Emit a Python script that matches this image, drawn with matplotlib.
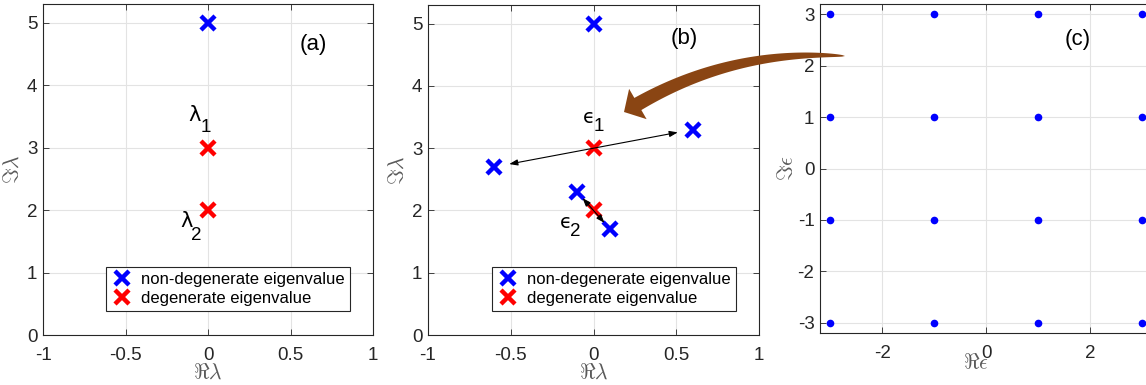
import numpy as np
import matplotlib.pyplot as plt
from matplotlib.patches import Polygon
from matplotlib.transforms import offset_copy

plt.rcParams['font.family'] = ['Liberation Sans', 'DejaVu Sans']
plt.rcParams['mathtext.fontset'] = 'dejavusans'
plt.rcParams['axes.unicode_minus'] = False

# eigenvalues of the unperturbed problem
deg_re = [0, 0]
deg_im = [3, 2]
nondeg_a_re = [0]
nondeg_a_im = [5]

# eigenvalues after the perturbation splits the degenerate pair
nondeg_b_re = [0, -0.6, 0.6, -0.1, 0.1]
nondeg_b_im = [5, 2.7, 3.3, 2.3, 1.7]

# lattice of perturbation values in the complex plane
eps_re = [-3, -1, 1, 3]
eps_im = [-3, -1, 1, 3]

blue = '#0000ff'
red = '#ff0000'
axcol = '#262626'
labcol = '#5a5a5a'

fig = plt.figure(figsize=(11.46, 3.85), dpi=100)
W, H = 1146, 385


def place(l, r, t, b):
    return fig.add_axes([l / W, 1 - b / H, (r - l) / W, (b - t) / H])


def style(ax):
    ax.grid(True, color='#e3e3e3', lw=0.8)
    ax.set_axisbelow(True)
    for s in ax.spines.values():
        s.set_color(axcol)
        s.set_linewidth(0.8)
    ax.tick_params(direction='in', length=4, width=0.6, colors=axcol,
                   labelsize=13.5, top=True, right=True, labeltop=False, labelright=False)
    ax.tick_params(axis='x', pad=9)
    ax.tick_params(axis='y', pad=4)


def sub_label(ax, x, y, sym, idx, dx, dy, size=15):
    # symbol with a large, lowered index in the style of a tex subscript
    ax.text(x, y, sym, fontsize=size, ha='center', va='center',
            family=['DejaVu Sans'])
    tr = offset_copy(ax.transData, fig=fig, x=dx, y=-dy, units='dots')
    ax.text(x, y, idx, fontsize=13.5, ha='center', va='center', transform=tr)


mk = dict(marker='x', ls='none', ms=10, mew=3.2)
arrow_kw = dict(arrowstyle='<|-|>,head_length=0.5,head_width=0.18', color='black', lw=0.8)

# (a) degenerate spectrum
axa = place(43, 373, 4, 335)
axa.plot(nondeg_a_re, nondeg_a_im, color=blue, label='non-degenerate eigenvalue', **mk)
axa.plot(deg_re, deg_im, color=red, label='degenerate eigenvalue', **mk)
sub_label(axa, -0.08, 3.53, 'λ', '1', 11, 13)
sub_label(axa, -0.13, 1.82, 'λ', '2', 10, 14)
axa.text(0.64, 4.65, '(a)', fontsize=16, ha='center', va='center')

# (b) split spectrum
axb = place(428, 759, 5, 335)
axb.plot(nondeg_b_re, nondeg_b_im, color=blue, label='non-degenerate eigenvalue', **mk)
axb.plot(deg_re, deg_im, color=red, label='degenerate eigenvalue', **mk)
axb.annotate('', xy=(nondeg_b_re[2], nondeg_b_im[2]), xytext=(nondeg_b_re[1], nondeg_b_im[1]),
             arrowprops=dict(shrinkA=11, shrinkB=11, **arrow_kw))
axb.annotate('', xy=(nondeg_b_re[4], nondeg_b_im[4]), xytext=(nondeg_b_re[3], nondeg_b_im[3]),
             arrowprops=dict(shrinkA=6, shrinkB=6, **arrow_kw))
sub_label(axb, -0.027, 3.49, 'ϵ', '1', 10, 9, size=14)
sub_label(axb, -0.166, 1.81, 'ϵ', '2', 9, 9, size=14)
axb.text(0.55, 4.76, '(b)', fontsize=16, ha='center', va='center')

for ax in (axa, axb):
    style(ax)
    ax.set_xlim(-1, 1)
    ax.set_ylim(0, 5.3)
    ax.set_xticks([-1, -0.5, 0, 0.5, 1])
    ax.set_xticklabels(['-1', '-0.5', '0', '0.5', '1'])
    ax.set_yticks(range(6))
    ax.set_xlabel(r'$\Re\lambda$', fontsize=15.5, color=labcol, math_fontfamily='cm', labelpad=-1)
    ax.set_ylabel(r'$\Im\lambda$', fontsize=15.5, color=labcol, math_fontfamily='cm', labelpad=2)
    leg = ax.legend(loc='lower right', bbox_to_anchor=(0.955, 0.048), fontsize=12,
                    fancybox=False, framealpha=1, edgecolor=axcol, borderpad=0.3,
                    handletextpad=0.5, labelspacing=0.25, handlelength=1.3)
    leg.get_frame().set_linewidth(0.8)

# (c) perturbation lattice
axc = place(820, 1152, 4, 333)
gx, gy = np.meshgrid(eps_re, eps_im)
axc.plot(gx.ravel(), gy.ravel(), 'o', color=blue, ms=5.5, mec='none')
axc.text(1.76, 2.5, '(c)', fontsize=16, ha='center', va='center')
style(axc)
axc.set_xlim(-3.2, 3.2)
axc.set_ylim(-3.2, 3.2)
axc.set_xticks([-2, 0, 2])
axc.set_yticks([-3, -2, -1, 0, 1, 2, 3])
axc.set_xlabel(r'$\Re\epsilon$', fontsize=15.5, color=labcol, math_fontfamily='cm', labelpad=-7)
axc.xaxis.label.set_x(0.47)
axc.set_ylabel(r'$\Im\epsilon$', fontsize=15.5, color=labcol, math_fontfamily='cm', labelpad=0)

# tapered curved arrow from the lattice back to panel (b), in pixels (y down)
tail = np.array([845.0, 56.0])
tip = np.array([624.0, 112.0])
d = np.array([-0.866, 0.5])           # head direction
perp = np.array([0.5, 0.866])
base = tip - 16 * d                   # centre of the head base
ctrl = base - 110 * d
t = np.linspace(0, 1, 80)[:, None]
curve = (1 - t) ** 2 * tail + 2 * t * (1 - t) * ctrl + t ** 2 * base
tang = 2 * (1 - t) * (ctrl - tail) + 2 * t * (base - ctrl)
nrm = np.column_stack([-tang[:, 1], tang[:, 0]])
nrm /= np.linalg.norm(nrm, axis=1)[:, None]
half = 7 * np.sqrt(t)
side1 = curve + half * nrm
side2 = curve - half * nrm
head = [base + 17.5 * perp, tip, base - 17.5 * perp]
pts = np.vstack([side1, head, side2[::-1]])
if np.dot(side1[-1] - base, perp) < 0:
    pts = np.vstack([side1, head[::-1], side2[::-1]])
pts = np.column_stack([pts[:, 0] / W, 1 - pts[:, 1] / H])
fig.add_artist(Polygon(pts, closed=True, transform=fig.transFigure,
                       facecolor='#8a4513', edgecolor='none'))

fig.savefig('out.png', dpi=100)
